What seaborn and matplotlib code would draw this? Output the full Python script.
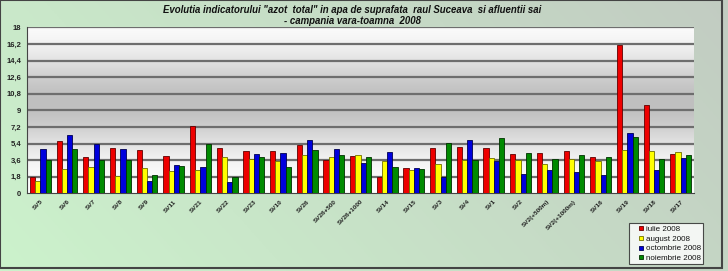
import numpy as np
import pandas as pd
import matplotlib
matplotlib.use("Agg")
import matplotlib.pyplot as plt
import seaborn as sns
from matplotlib.patches import Rectangle
from matplotlib.lines import Line2D
from matplotlib.ticker import FixedLocator

stations = ["SV5", "SV6", "SV7", "SV8", "SV9", "SV11", "SV21", "SV22", "SV23", "SV10",
            "SV26", "SV26+500", "SV26+1000", "SV14", "SV15", "SV3", "SV4", "SV1", "SV2",
            "SV2(+500m)", "SV2(+1000m)", "SV16", "SV19", "SV18", "SV17"]
iulie = [1.78, 5.65, 3.96, 4.86, 4.71, 4.03, 7.34, 4.86, 4.60, 4.60,
         5.29, 3.56, 4.06, 1.80, 2.70, 4.93, 5.00, 4.93, 4.28,
         4.35, 4.64, 3.89, 16.12, 9.57, 4.28]
august = [1.37, 2.59, 2.80, 1.87, 2.73, 2.37, 2.52, 3.96, 3.67, 3.53,
          4.10, 3.92, 4.20, 3.53, 2.52, 3.13, 3.63, 3.78, 3.63,
          3.20, 3.70, 3.50, 4.68, 4.64, 4.46]
octombrie = [4.80, 6.30, 5.36, 4.80, 1.37, 3.02, 2.88, 1.22, 4.28, 4.42,
             5.83, 4.78, 3.24, 4.50, 2.73, 1.80, 5.83, 3.45, 2.05,
             2.48, 2.27, 1.98, 6.58, 2.48, 3.81]
noiembrie = [3.63, 4.80, 3.60, 3.60, 1.94, 3.00, 5.32, 1.80, 3.96, 2.90,
             4.71, 4.20, 3.89, 2.84, 2.63, 5.43, 3.63, 6.05, 4.42,
             3.74, 4.13, 3.92, 6.15, 3.74, 4.13]
months = ["iulie 2008", "august 2008", "octombrie 2008", "noiembrie 2008"]
yticks = [0, 1.8, 3.6, 5.4, 7.2, 9, 10.8, 12.6, 14.4, 16.2, 18]
ytick_labels = ["0", "1,8", "3,6", "5,4", "7,2", "9", "10,8", "12,6", "14,4", "16,2", "18"]
title = ('Evolutia indicatorului "azot  total" in apa de suprafata  raul Suceava  si afluentii sai\n'
         '- campania vara-toamna  2008')

colors = ["#ee0000", "#ffff00", "#0000dd", "#008a00"]
edges = ["#600000", "#707000", "#000050", "#003000"]

df = pd.DataFrame({
    "station": stations * 4,
    "month": sum([[m] * len(stations) for m in months], []),
    "value": iulie + august + octombrie + noiembrie,
})

sns.set_theme(style="white")
plt.rcParams["font.family"] = ["Liberation Sans", "DejaVu Sans"]

fig = plt.figure(figsize=(7.28, 2.71), dpi=100)

# figure background gradient
bg = fig.add_axes([0, 0, 1, 1], zorder=-10)
xx, yy = np.meshgrid(np.linspace(0, 1, 200), np.linspace(0, 1, 100))
t = np.clip(0.75 * xx + 0.25 * (1 - yy), 0, 1)
c0 = np.array([0.80, 0.95, 0.80])
c1 = np.array([0.76, 0.80, 0.76])
img = c0[None, None, :] * (1 - t[..., None]) + c1[None, None, :] * t[..., None]
bg.imshow(img, extent=[0, 1, 0, 1], aspect="auto", origin="upper")
bg.set_xlim(0, 1); bg.set_ylim(0, 1)
bg.axis("off")
bg.add_patch(Rectangle((0.0, 0.012), 0.992, 0.987, fill=False, edgecolor="#444444", lw=1.5,
                       transform=bg.transAxes))

ax = fig.add_axes([27 / 728, 1 - 193.3 / 271, (694 - 27) / 728, (193.3 - 27.3) / 271])

# plot area gradient
g = np.linspace(0, 1, 256)
shade = 1 - 0.25 * np.exp(-((g - 0.55) / 0.28) ** 2)
grad = np.repeat(shade[:, None], 2, axis=1)
ax.imshow(np.dstack([grad, grad, grad]), extent=[-0.5, len(stations) - 0.5, 0, 18],
          aspect="auto", origin="lower", zorder=0)

sns.barplot(data=df, x="station", y="value", hue="month", palette=colors,
            width=0.78, gap=0, saturation=1, ax=ax, legend=False, zorder=3)

for i, cont in enumerate(ax.containers):
    for p in cont:
        p.set_edgecolor(edges[i])
        p.set_linewidth(0.6)
        p.set_zorder(3)

ax.set_xlim(-0.5, len(stations) - 0.5)
ax.set_ylim(0, 18)
ax.yaxis.set_major_locator(FixedLocator(yticks))
ax.set_yticklabels(ytick_labels, fontsize=5.5, fontweight="bold", color="#222222")
for y in yticks[1:]:
    ax.axhline(y, color="#6e6e6e", lw=1.6, zorder=1)
ax.set_xlabel("")
ax.set_ylabel("")
ax.set_xticks(range(len(stations)))
ax.set_xticklabels(stations, rotation=45, ha="right", rotation_mode="anchor",
                   fontsize=4.6, fontweight="bold", color="#222222")
ax.tick_params(axis="both", length=2, width=0.6, color="#333333", pad=2)
ax.tick_params(axis="x", length=0, pad=4)
for s in ["top", "right"]:
    ax.spines[s].set_visible(False)
ax.spines["left"].set_color("#444444")
ax.spines["bottom"].set_color("#444444")
ax.spines["left"].set_linewidth(0.8)
ax.spines["bottom"].set_linewidth(0.8)

fig.text(0.484, 0.982, title, ha="center", va="top", fontsize=6.9,
         fontweight="bold", fontstyle="italic", linespacing=1.15, color="#111111")

handles = [Line2D([], [], linestyle="none", marker="s", markersize=3.2,
                  markerfacecolor=c, markeredgecolor=e, markeredgewidth=0.6)
           for c, e in zip(colors, edges)]
leg = fig.legend(handles, months, loc="upper left", bbox_to_anchor=(629 / 728, 1 - 223 / 271),
                 fontsize=5.8, frameon=True, fancybox=False, numpoints=1,
                 handlelength=2.3, handletextpad=-0.5, borderpad=0.3, labelspacing=0.25,
                 borderaxespad=0)
for txt in leg.get_texts():
    txt.set_color("#111111")
leg.get_frame().set_edgecolor("#222222")
leg.get_frame().set_linewidth(0.8)
leg.get_frame().set_facecolor("white")

fig.savefig("out.png", dpi=100)
